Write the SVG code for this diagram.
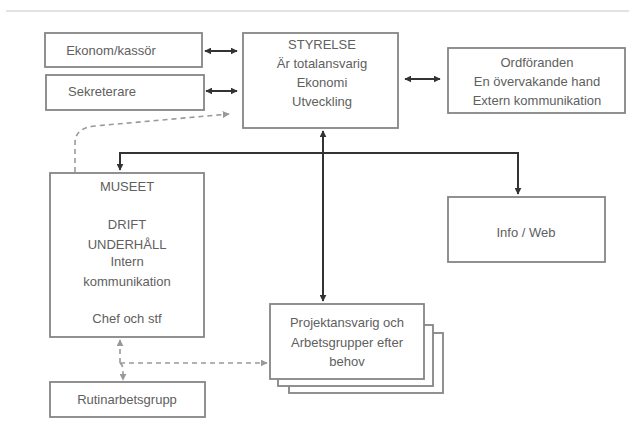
<svg xmlns="http://www.w3.org/2000/svg" width="629" height="431" viewBox="0 0 629 431">
  <style>
    .box { fill: #fff; stroke: #858585; stroke-width: 1.8; }
    .t { font-family: "Liberation Sans", Arial, sans-serif; font-size: 13px; fill: #606060; text-anchor: middle; }
    .c { fill: none; stroke: #333; stroke-width: 2; }
    .d { fill: none; stroke: #9a9a9a; stroke-width: 1.6; stroke-dasharray: 5 4; }
  </style>
  <defs>
    <marker id="ah" viewBox="0 0 10 10" refX="9" refY="5" markerWidth="7" markerHeight="7" markerUnits="userSpaceOnUse" orient="auto-start-reverse">
      <path d="M0 0 L10 5 L0 10 z" fill="#333"/>
    </marker>
    <marker id="ahd" viewBox="0 0 10 10" refX="9" refY="5" markerWidth="7" markerHeight="7" markerUnits="userSpaceOnUse" orient="auto-start-reverse">
      <path d="M0 0 L10 5 L0 10 z" fill="#999"/>
    </marker>
  </defs>
  <rect width="629" height="431" fill="#fff"/>
  <line x1="6" y1="11" x2="629" y2="11" stroke="#e2e2e2" stroke-width="2"/>

  <g id="connectors">
    <line class="c" x1="205" y1="51" x2="237" y2="51" marker-start="url(#ah)" marker-end="url(#ah)"/>
    <line class="c" x1="206" y1="91" x2="237" y2="91" marker-start="url(#ah)" marker-end="url(#ah)"/>
    <line class="c" x1="405" y1="79" x2="440" y2="79" marker-start="url(#ah)" marker-end="url(#ah)"/>
    <line class="c" x1="323" y1="131" x2="323" y2="301" marker-start="url(#ah)" marker-end="url(#ah)"/>
    <path class="c" d="M323 153 H120 V170" marker-end="url(#ah)"/>
    <path class="c" d="M323 153 H518 V194" marker-end="url(#ah)"/>
    <path class="d" d="M75 172 V143 Q75 128 95 126 L229 114" marker-end="url(#ahd)"/>
    <path class="d" d="M120 363 V340" marker-end="url(#ahd)"/>
    <path class="d" d="M120 363 Q123 365 123 370 V380" marker-end="url(#ahd)"/>
    <path class="d" d="M120 363 H267" marker-end="url(#ahd)"/>
  </g>

  <g id="ekonom">
    <rect class="box" x="45" y="33" width="157" height="34"/>
    <text class="t" x="111" y="55">Ekonom/kassör</text>
  </g>
  <g id="sekreterare">
    <rect class="box" x="46" y="75" width="158" height="35"/>
    <text class="t" x="102" y="96">Sekreterare</text>
  </g>
  <g id="styrelse">
    <rect class="box" x="243" y="33" width="155" height="95"/>
    <text class="t" x="322" y="49">STYRELSE</text>
    <text class="t" x="322" y="68">Är totalansvarig</text>
    <text class="t" x="322" y="87">Ekonomi</text>
    <text class="t" x="322" y="106">Utveckling</text>
  </g>
  <g id="ordforande">
    <rect class="box" x="448" y="48" width="177" height="65"/>
    <text class="t" x="537" y="67">Ordföranden</text>
    <text class="t" x="537" y="86">En övervakande hand</text>
    <text class="t" x="537" y="105">Extern kommunikation</text>
  </g>
  <g id="museet">
    <rect class="box" x="50" y="173" width="154" height="164"/>
    <text class="t" x="127" y="191">MUSEET</text>
    <text class="t" x="127" y="229">DRIFT</text>
    <text class="t" x="127" y="249">UNDERHÅLL</text>
    <text class="t" x="127" y="266">Intern</text>
    <text class="t" x="127" y="286">kommunikation</text>
    <text class="t" x="127" y="323">Chef och stf</text>
  </g>
  <g id="infoweb">
    <rect class="box" x="448" y="197" width="157" height="65"/>
    <text class="t" x="526" y="237">Info / Web</text>
  </g>
  <g id="projekt">
    <rect class="box" x="289" y="333" width="154" height="60"/>
    <rect class="box" x="278" y="325" width="155" height="61"/>
    <rect class="box" x="270" y="304" width="154" height="75"/>
    <text class="t" x="347" y="327">Projektansvarig och</text>
    <text class="t" x="347" y="347">Arbetsgrupper efter</text>
    <text class="t" x="347" y="366">behov</text>
  </g>
  <g id="rutin">
    <rect class="box" x="50" y="382" width="155" height="35"/>
    <text class="t" x="127" y="404">Rutinarbetsgrupp</text>
  </g>
</svg>
